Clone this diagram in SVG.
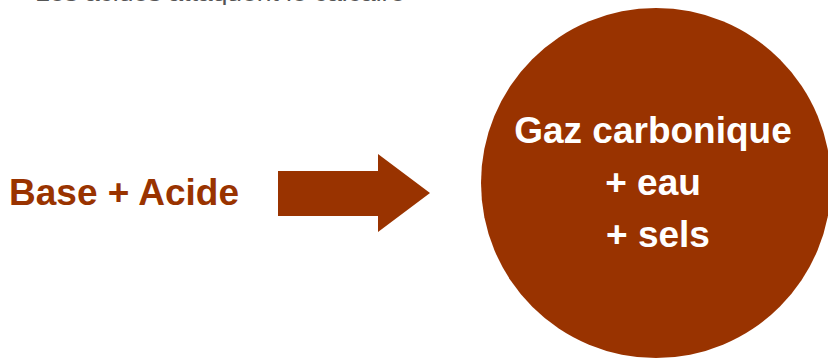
<svg xmlns="http://www.w3.org/2000/svg" width="828" height="360" viewBox="0 0 828 360">
<style>
.lbl{font-family:"Liberation Sans",Arial,sans-serif;font-weight:bold;font-size:37px}
.top{font-family:"Liberation Sans",Arial,sans-serif;font-size:20px;fill:#555}
</style>
<rect width="828" height="360" fill="#ffffff"/>
<text class="top" x="35" y="0.5" textLength="370" lengthAdjust="spacingAndGlyphs">Les acides attaquent le calcaire</text>
<g id="source">
<text class="lbl" x="9" y="205" fill="#993300">Base + Acide</text>
</g>
<g id="connectors">
<polygon points="278,171 378,171 378,154 430,193 378,232 378,216 278,216" fill="#993300"/>
</g>
<g id="result">
<circle cx="656" cy="183" r="175" fill="#993300"/>
<text class="lbl" x="653" y="143" fill="#ffffff" text-anchor="middle">Gaz carbonique</text>
<text class="lbl" x="653" y="195" fill="#ffffff" text-anchor="middle">+ eau</text>
<text class="lbl" x="658" y="247" fill="#ffffff" text-anchor="middle">+ sels</text>
</g>
</svg>
